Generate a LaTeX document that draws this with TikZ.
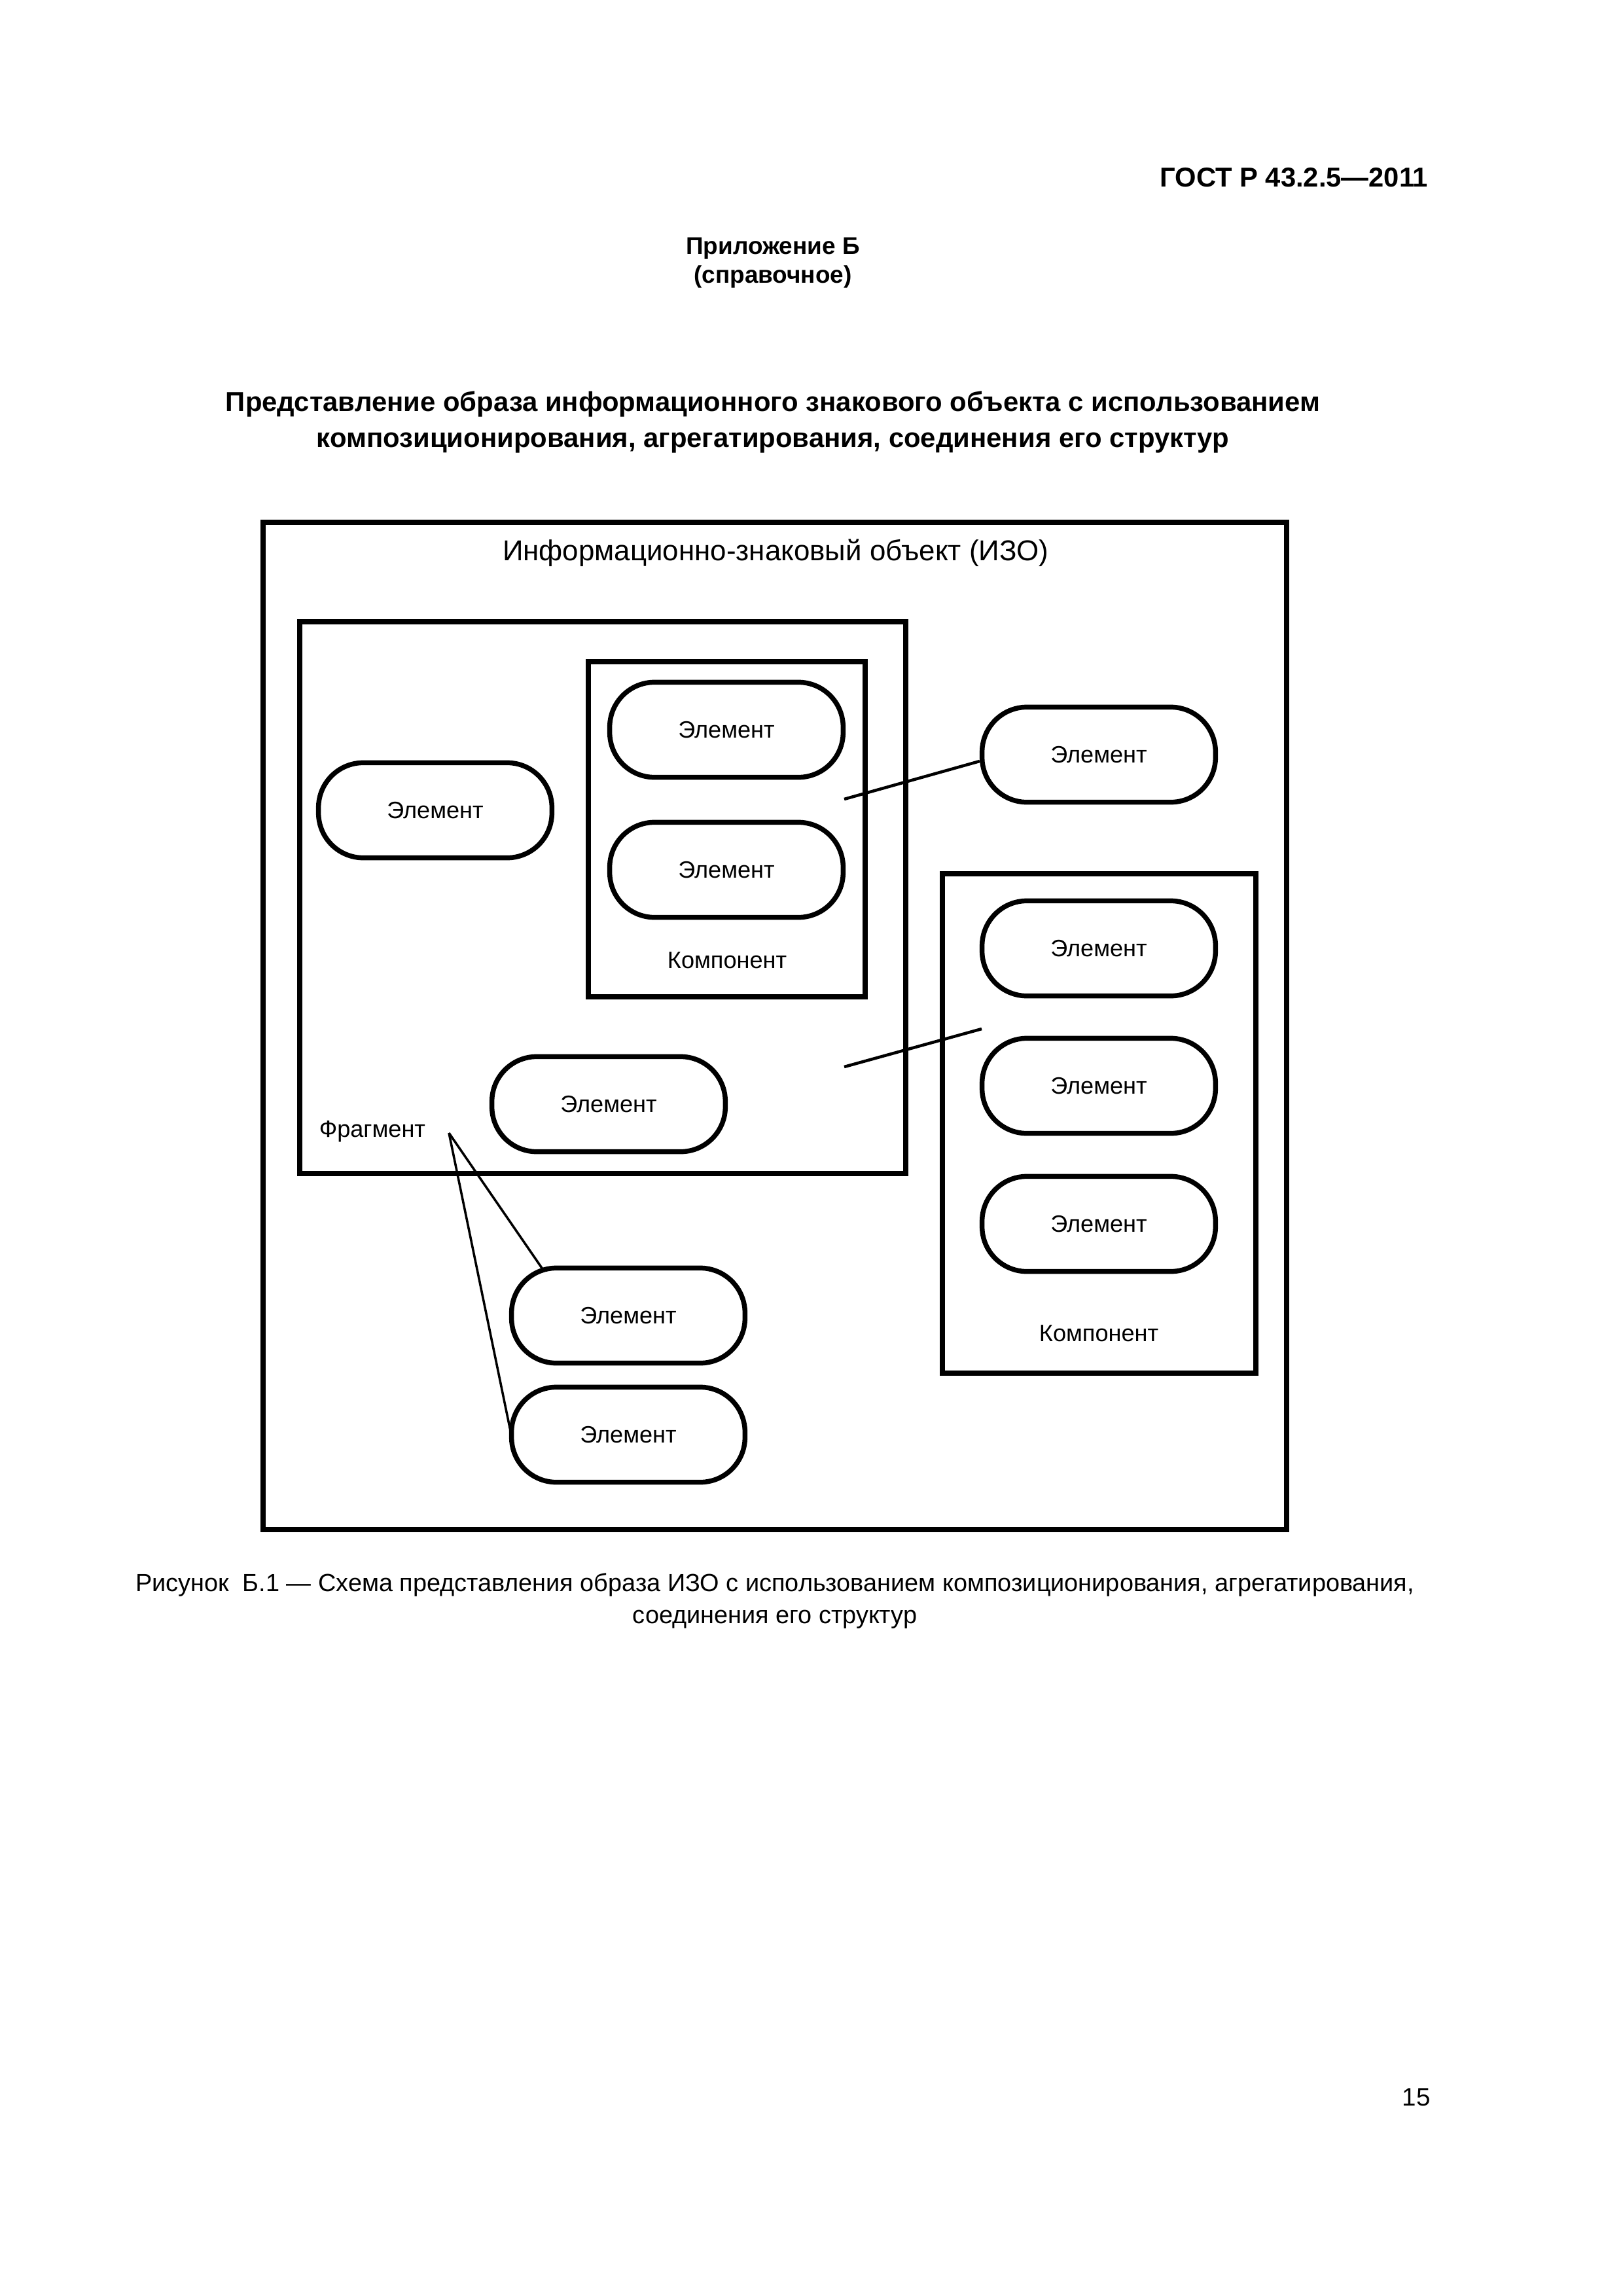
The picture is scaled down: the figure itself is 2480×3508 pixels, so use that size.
\documentclass[tikz,border=0pt]{standalone}
\usepackage{fontspec}
\setmainfont{Liberation Sans}
\usetikzlibrary{calc}
\begin{document}
\begin{tikzpicture}[x=0.08467mm,y=-0.08467mm,
  box/.style={draw,line width=1.8pt},
  elem/.style={draw,line width=1.8pt,rounded corners=5.8mm,minimum width=30.2mm,minimum height=12.3mm,inner sep=0pt,font=\fontsize{8.7pt}{10pt}\selectfont},
  lbl/.style={inner sep=0pt,font=\fontsize{8.7pt}{10pt}\selectfont},
  conn/.style={line width=1.1pt},
  thinconn/.style={line width=0.85pt},
  txt/.style={inner sep=0pt,align=center}]
\useasboundingbox (0,0) rectangle (2480,3508);

% page header
\node[txt,anchor=east,font=\fontsize{10.05pt}{12pt}\selectfont\bfseries] (gost) at (2183,271) {ГОСТ Р 43.2.5—2011};
\node[txt,font=\fontsize{8.9pt}{10.6pt}\selectfont\bfseries] (app) at (1181,402) {Приложение Б\\(справочное)};
\node[txt,font=\fontsize{10.08pt}{13.4pt}\selectfont\bfseries] (head) at (1181,645)
  {Представление образа информационного знакового объекта с использованием\\композиционирования, агрегатирования, соединения его структур};

% boxes
\draw[box] (402,798) rectangle (1966,2337);
\draw[box] (458,950) rectangle (1384,1793);
\draw[box] (899,1011) rectangle (1322,1523);
\draw[box] (1440,1335) rectangle (1919,2098);

\node[txt,font=\fontsize{10.57pt}{13pt}\selectfont] (iso) at (1185,845) {Информационно-знаковый объект (ИЗО)};

% elements
\node[elem] (e1) at (1110,1115) {Элемент};
\node[elem] (e2) at (1110,1329) {Элемент};
\node[elem] (e3) at (665,1238) {Элемент};
\node[elem] (e4) at (930,1687) {Элемент};
\node[elem] (e5) at (1679,1153) {Элемент};
\node[elem] (e6) at (1679,1449) {Элемент};
\node[elem] (e7) at (1679,1659) {Элемент};
\node[elem] (e8) at (1679,1870) {Элемент};
\node[elem] (e9) at (960,2010) {Элемент};
\node[elem] (e10) at (960,2192) {Элемент};

\node[lbl] (comp1) at (1111,1467) {Компонент};
\node[lbl] (comp2) at (1679,2037) {Компонент};
\node[lbl,anchor=west] (frag) at (487,1729) {Фрагмент};

% connectors
\coordinate (c1) at (1290,1221);
\draw[conn] (c1) -- ($(e5.west)+(0,10)$);
\coordinate (c2a) at (1290,1630);
\coordinate (c2b) at (1500,1572);
\draw[conn] (c2a) -- (c2b);
\coordinate (apex) at (686,1731);
\draw[thinconn] (apex) -- ($(e9.north west)+(53,8)$);
\draw[thinconn] (apex) -- ($(e10.west)+(2,-6)$);

% caption
\node[txt,font=\fontsize{9.12pt}{11.6pt}\selectfont] (cap) at (1184,2446)
  {Рисунок\ \ Б.1 — Схема представления образа ИЗО с использованием композиционирования, агрегатирования,\\соединения его структур};

\node[txt,font=\fontsize{9.3pt}{11pt}\selectfont] (page) at (2164,3204) {15};
\end{tikzpicture}
\end{document}
